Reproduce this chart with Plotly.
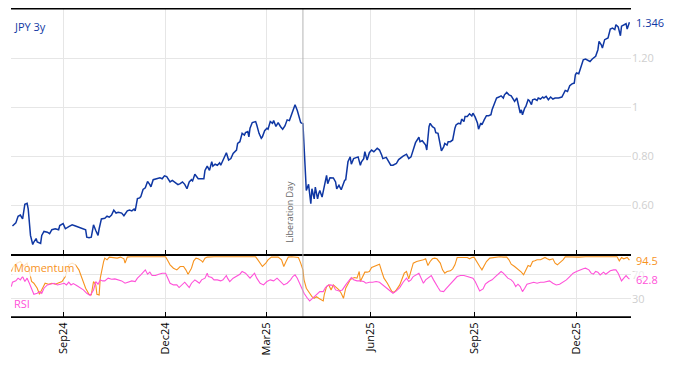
import pandas as pd
import plotly.graph_objects as go

# ---------------- data ----------------
base_date = "2024-07-17"

jpy_day = [
    1, 4, 6, 8, 10, 12, 14, 15, 17, 19,
    20, 22, 23, 26, 27, 29, 32, 34, 36, 39,
    42, 43, 46, 48, 51, 54, 57, 60, 63, 66,
    67, 69, 71, 73, 75, 77, 78, 80, 83, 85,
    87, 89, 91, 93, 95, 98, 100, 103, 105, 107,
    109, 110, 112, 114, 115, 117, 119, 121, 123, 124,
    126, 129, 132, 134, 136, 138, 139, 141, 143, 146,
    148, 150, 152, 154, 156, 158, 160, 161, 163, 166,
    169, 171, 172, 174, 176, 178, 179, 181, 183, 185,
    186, 188, 191, 193, 195, 197, 200, 201, 203, 205,
    207, 208, 210, 211, 212, 214, 217, 218, 220, 222,
    223, 225, 227, 228, 230, 232, 233, 235, 237, 239,
    241, 243, 245, 247, 249, 251, 252, 254, 256, 257,
    259, 260, 261, 262, 264, 265, 266, 267, 269, 270,
    272, 273, 274, 276, 277, 280, 281, 283, 286, 288,
    289, 291, 293, 294, 296, 297, 299, 301, 302, 304,
    306, 308, 310, 311, 313, 314, 316, 318, 320, 322,
    325, 327, 329, 330, 333, 335, 337, 339, 342, 344,
    346, 348, 351, 353, 355, 357, 359, 362, 363, 365,
    367, 368, 369, 371, 372, 374, 376, 377, 379, 381,
    382, 384, 385, 387, 388, 390, 392, 394, 395, 397,
    399, 400, 402, 403, 405, 407, 409, 410, 412, 414,
    415, 417, 418, 420, 422, 424, 426, 427, 429, 431,
    433, 435, 437, 438, 440, 442, 444, 446, 447, 449,
    450, 452, 453, 454, 456, 457, 459, 460, 462, 463,
    465, 467, 468, 470, 472, 473, 475, 477, 479, 481,
    483, 486, 489, 491, 492, 494, 496, 498, 500, 501,
    502, 504, 506, 508, 510, 512, 514, 516, 517, 519,
    521, 522, 524, 525, 527, 529, 530, 532, 534, 536,
    537, 539, 541, 542, 544, 546, 547, 548, 549,
]
jpy_value = [
    0.515, 0.528, 0.555, 0.560, 0.544, 0.604, 0.608, 0.584, 0.477, 0.440,
    0.450, 0.464, 0.450, 0.444, 0.477, 0.493, 0.490, 0.484, 0.500, 0.504,
    0.500, 0.517, 0.525, 0.504, 0.513, 0.520, 0.515, 0.510, 0.507, 0.500,
    0.470, 0.467, 0.470, 0.520, 0.497, 0.477, 0.504, 0.544, 0.547, 0.555,
    0.551, 0.560, 0.580, 0.568, 0.571, 0.568, 0.557, 0.577, 0.580, 0.577,
    0.584, 0.577, 0.627, 0.630, 0.635, 0.664, 0.671, 0.697, 0.684, 0.675,
    0.704, 0.709, 0.712, 0.708, 0.720, 0.717, 0.708, 0.695, 0.701, 0.690,
    0.684, 0.688, 0.695, 0.685, 0.667, 0.695, 0.704, 0.699, 0.726, 0.708,
    0.708, 0.708, 0.742, 0.759, 0.742, 0.777, 0.759, 0.767, 0.763, 0.773,
    0.763, 0.784, 0.814, 0.784, 0.790, 0.811, 0.825, 0.852, 0.859, 0.893,
    0.886, 0.896, 0.900, 0.879, 0.914, 0.937, 0.941, 0.927, 0.893, 0.873,
    0.879, 0.904, 0.914, 0.910, 0.941, 0.934, 0.945, 0.921, 0.937, 0.921,
    0.910, 0.923, 0.948, 0.945, 0.968, 0.996, 1.010, 0.986, 0.959, 0.937,
    0.932, 0.825, 0.701, 0.660, 0.685, 0.647, 0.606, 0.667, 0.626, 0.674,
    0.626, 0.647, 0.660, 0.633, 0.653, 0.722, 0.688, 0.712, 0.711, 0.695,
    0.667, 0.681, 0.663, 0.677, 0.701, 0.704, 0.777, 0.797, 0.767, 0.790,
    0.795, 0.797, 0.763, 0.777, 0.790, 0.818, 0.784, 0.814, 0.825, 0.818,
    0.832, 0.825, 0.804, 0.790, 0.795, 0.777, 0.763, 0.763, 0.770, 0.786,
    0.795, 0.800, 0.808, 0.790, 0.797, 0.825, 0.855, 0.877, 0.859, 0.863,
    0.849, 0.845, 0.825, 0.920, 0.934, 0.920, 0.914, 0.896, 0.893, 0.845,
    0.822, 0.838, 0.852, 0.845, 0.859, 0.859, 0.866, 0.914, 0.927, 0.934,
    0.932, 0.951, 0.941, 0.962, 0.962, 0.973, 0.964, 0.975, 0.959, 0.935,
    0.910, 0.935, 0.928, 0.948, 0.965, 0.965, 0.969, 0.989, 1.014, 1.037,
    1.041, 1.046, 1.037, 1.050, 1.060, 1.050, 1.046, 1.033, 1.023, 1.037,
    1.014, 0.976, 0.989, 0.969, 0.996, 1.003, 1.030, 1.027, 1.010, 1.030,
    1.033, 1.027, 1.037, 1.033, 1.041, 1.037, 1.044, 1.030, 1.041, 1.033,
    1.037, 1.037, 1.041, 1.064, 1.068, 1.064, 1.087, 1.095, 1.098, 1.132,
    1.139, 1.136, 1.166, 1.193, 1.196, 1.190, 1.186, 1.196, 1.200, 1.207,
    1.234, 1.268, 1.254, 1.241, 1.275, 1.278, 1.282, 1.318, 1.322, 1.316,
    1.336, 1.327, 1.291, 1.330, 1.336, 1.340, 1.318, 1.336, 1.346,
]

mom_day = [
    0, 2, 5, 8, 11, 14, 16, 18, 20, 23,
    25, 27, 29, 30, 33, 36, 39, 42, 45, 48,
    51, 54, 57, 60, 63, 66, 69, 71, 73, 75,
    76, 78, 79, 81, 82, 83, 85, 87, 91, 94,
    97, 100, 101, 103, 106, 112, 115, 120, 126, 132,
    137, 139, 141, 144, 147, 150, 153, 155, 157, 160,
    162, 164, 166, 169, 170, 172, 174, 180, 186, 191,
    197, 203, 209, 214, 217, 219, 221, 223, 226, 228,
    231, 234, 237, 240, 242, 244, 246, 249, 252, 255,
    257, 259, 260, 262, 265, 267, 269, 271, 273, 275,
    277, 278, 280, 282, 284, 286, 289, 291, 293, 295,
    297, 299, 301, 303, 305, 307, 309, 310, 312, 314,
    316, 318, 320, 322, 325, 327, 329, 331, 334, 336,
    338, 340, 342, 345, 347, 349, 351, 353, 354, 356,
    357, 360, 363, 366, 368, 370, 372, 374, 376, 378,
    381, 383, 385, 387, 390, 392, 394, 396, 399, 402,
    405, 407, 409, 411, 413, 416, 418, 420, 422, 425,
    428, 431, 434, 437, 440, 442, 444, 447, 449, 451,
    453, 455, 457, 459, 461, 463, 465, 467, 470, 472,
    474, 476, 478, 481, 483, 485, 487, 490, 492, 498,
    504, 510, 515, 521, 527, 533, 538, 540, 542, 544,
    547, 549,
]
mom_value = [
    75.6, 83.9, 89.5, 92.2, 83.9, 89.5, 75.6, 58.9, 56.1, 47.8,
    37.8, 45.0, 53.3, 56.1, 54.5, 56.1, 54.5, 56.1, 58.9, 67.2,
    86.7, 89.5, 86.7, 78.3, 61.7, 47.8, 37.8, 36.7, 58.9, 53.3,
    37.8, 36.7, 64.5, 86.7, 92.2, 97.8, 95.0, 99.5, 98.9, 97.8,
    99.5, 96.7, 89.5, 99.5, 100.0, 100.0, 100.0, 100.0, 100.0, 100.0,
    100.0, 93.3, 86.7, 81.1, 78.3, 83.9, 83.9, 78.3, 71.1, 81.1,
    93.3, 97.8, 96.7, 93.3, 91.1, 97.8, 99.5, 100.0, 100.0, 99.5,
    99.5, 99.5, 100.0, 100.0, 100.0, 95.0, 89.5, 83.9, 89.5, 95.0,
    99.5, 100.0, 99.5, 95.0, 83.9, 92.2, 99.5, 100.0, 100.0, 98.9,
    89.5, 78.3, 61.7, 47.8, 39.4, 33.9, 31.1, 33.9, 31.1, 28.3,
    26.7, 37.8, 50.6, 53.3, 45.0, 53.3, 47.8, 45.0, 39.4, 31.1,
    47.8, 56.1, 61.7, 64.5, 65.6, 64.5, 75.6, 58.9, 67.2, 74.5,
    74.5, 75.6, 82.2, 83.9, 86.7, 87.8, 75.6, 64.5, 56.1, 48.9,
    42.2, 41.1, 45.0, 53.3, 61.7, 72.8, 75.6, 63.3, 70.0, 83.9,
    89.5, 92.2, 93.3, 95.0, 96.7, 85.6, 92.2, 96.7, 97.8, 96.7,
    89.5, 78.3, 72.8, 75.6, 76.7, 80.0, 86.7, 98.9, 98.9, 99.5,
    98.9, 96.7, 98.9, 99.5, 92.2, 83.9, 78.3, 86.7, 92.2, 97.8,
    98.9, 99.5, 100.0, 99.5, 99.5, 95.0, 87.8, 83.9, 81.1, 78.3,
    74.5, 70.0, 78.3, 85.6, 83.9, 92.2, 93.3, 95.0, 95.0, 96.7,
    98.9, 96.7, 95.0, 96.7, 89.5, 86.7, 89.5, 95.0, 100.0, 99.5,
    99.5, 100.0, 100.0, 100.0, 100.0, 100.0, 100.0, 93.3, 98.9, 96.7,
    98.9, 94.5,
]

rsi_day = [
    0, 1, 4, 6, 8, 10, 12, 14, 16, 18,
    20, 23, 25, 27, 29, 32, 35, 38, 41, 44,
    47, 49, 51, 53, 55, 58, 61, 64, 67, 70,
    73, 75, 77, 79, 81, 83, 86, 89, 92, 95,
    98, 101, 104, 107, 110, 112, 115, 117, 119, 121,
    123, 125, 128, 131, 134, 137, 139, 141, 144, 147,
    149, 152, 154, 156, 158, 160, 163, 165, 167, 169,
    172, 174, 175, 178, 180, 183, 186, 188, 191, 192,
    194, 197, 200, 203, 205, 208, 210, 212, 214, 216,
    218, 221, 224, 227, 230, 233, 236, 239, 242, 245,
    248, 250, 252, 254, 256, 258, 260, 263, 265, 267,
    269, 271, 274, 277, 279, 281, 283, 286, 288, 291,
    294, 297, 300, 302, 304, 307, 310, 313, 315, 318,
    321, 324, 327, 330, 333, 336, 339, 342, 345, 348,
    351, 353, 355, 357, 360, 362, 364, 366, 368, 370,
    373, 375, 377, 379, 381, 384, 386, 388, 391, 394,
    396, 399, 402, 405, 407, 410, 412, 414, 416, 419,
    421, 424, 427, 430, 433, 435, 437, 439, 441, 444,
    446, 448, 450, 452, 454, 456, 458, 461, 464, 467,
    470, 473, 476, 478, 481, 484, 487, 490, 493, 496,
    499, 502, 505, 508, 510, 513, 515, 517, 519, 521,
    523, 526, 528, 530, 532, 535, 537, 539, 541, 542,
    544, 546, 548, 549,
]
rsi_value = [
    50.6, 57.8, 60.0, 64.5, 61.7, 67.2, 58.9, 64.5, 56.1, 45.0,
    37.8, 39.4, 42.2, 39.4, 47.8, 53.3, 55.0, 56.1, 53.3, 54.5,
    56.1, 53.3, 57.8, 53.3, 55.6, 52.2, 48.9, 45.0, 39.4, 35.6,
    45.0, 58.9, 54.5, 61.7, 60.0, 60.0, 64.5, 62.8, 63.3, 61.7,
    60.0, 56.1, 57.8, 60.0, 58.9, 64.5, 70.0, 74.5, 78.3, 71.1,
    74.5, 68.9, 68.9, 71.1, 72.8, 72.8, 64.5, 56.1, 53.3, 53.3,
    48.9, 53.3, 57.8, 53.3, 48.9, 56.1, 61.7, 58.9, 56.1, 61.7,
    64.5, 72.8, 67.2, 65.6, 61.7, 61.7, 60.0, 61.7, 68.9, 64.5,
    58.9, 64.5, 67.2, 71.1, 75.6, 72.8, 68.9, 64.5, 68.9, 72.8,
    64.5, 56.1, 53.3, 58.9, 61.7, 60.0, 64.5, 58.9, 53.3, 56.1,
    61.7, 67.2, 70.0, 64.5, 56.1, 47.8, 39.4, 31.1, 26.7, 30.0,
    33.9, 37.8, 42.2, 42.2, 48.9, 52.2, 53.3, 52.2, 45.0, 43.3,
    45.0, 53.3, 61.7, 65.6, 61.7, 60.0, 60.0, 58.9, 56.1, 57.8,
    57.8, 58.9, 57.8, 53.3, 48.9, 45.0, 39.4, 43.3, 48.9, 57.8,
    64.5, 58.9, 61.7, 67.2, 71.1, 72.8, 64.5, 56.1, 61.7, 64.5,
    68.9, 61.7, 54.5, 48.9, 43.3, 42.2, 46.7, 50.6, 56.1, 61.7,
    67.2, 68.9, 68.9, 67.2, 65.6, 64.5, 58.9, 50.6, 43.3, 46.7,
    54.5, 58.9, 61.7, 67.2, 72.8, 75.6, 72.8, 68.9, 64.5, 61.7,
    57.8, 50.6, 54.5, 50.6, 42.2, 47.8, 54.5, 56.1, 57.8, 56.1,
    57.8, 57.8, 58.9, 60.0, 56.1, 53.3, 54.5, 57.8, 61.7, 67.2,
    72.8, 75.6, 78.3, 80.0, 81.1, 78.3, 72.8, 71.1, 75.6, 74.5,
    70.0, 74.5, 71.1, 74.5, 76.7, 78.3, 78.3, 72.8, 64.5, 60.0,
    64.5, 68.9, 64.5, 62.8,
]

tick_dates = ["2024-09-01", "2024-12-01", "2025-03-01", "2025-06-01", "2025-09-01", "2025-12-01"]
event_date = "2025-04-02"
event_label = "Liberation Day"
jpy_ticks = [0.6, 0.8, 1.0, 1.2]
jpy_ticktext = ["0.60", "0.80", "1", "1.20"]
osc_ticks = [30, 70]

assert len(jpy_day) == len(jpy_value)
assert len(mom_day) == len(mom_value)
assert len(rsi_day) == len(rsi_value)

# ---------------- build ----------------
base = pd.Timestamp(base_date)
to_dates = lambda days: [base + pd.Timedelta(days=d) for d in days]
jpy_x = to_dates(jpy_day)
mom_x = to_dates(mom_day)
rsi_x = to_dates(rsi_day)

BLUE = "#0f37a3"
ORANGE = "#f7931e"
PINK = "#ff52d9"
GRID = "#e6e6e6"
TICKGRAY = "#cfcfcf"
FONT = "Open Sans"

x_range = [base - pd.Timedelta(days=0.3), base + pd.Timedelta(days=550.4)]
split = 62 / 308

fig = go.Figure()
fig.add_trace(go.Scatter(x=jpy_x, y=jpy_value, mode="lines", xaxis="x2", yaxis="y",
                         line=dict(color=BLUE, width=1.5), name="JPY 3y"))
fig.add_trace(go.Scatter(x=mom_x, y=mom_value, mode="lines", xaxis="x", yaxis="y2",
                         line=dict(color=ORANGE, width=1.1), name="Momentum"))
fig.add_trace(go.Scatter(x=rsi_x, y=rsi_value, mode="lines", xaxis="x", yaxis="y2",
                         line=dict(color=PINK, width=1.1), name="RSI"))

common_x = dict(type="date", range=x_range, tickvals=tick_dates, tickformat="%b%y",
                showgrid=True, gridcolor=GRID, gridwidth=1, zeroline=False,
                showline=True, linecolor="black", linewidth=1, mirror=True,
                ticks="inside", ticklen=5, tickcolor="black", tickwidth=1)

fig.update_layout(
    width=674, height=366,
    margin=dict(l=11, r=43, t=9, b=49),
    paper_bgcolor="white", plot_bgcolor="white",
    showlegend=False,
    font=dict(family=FONT, size=11, color="black"),
    xaxis=dict(domain=[0, 1], anchor="y2", tickangle=-90,
               tickfont=dict(size=11, color="black", family=FONT), **common_x),
    xaxis2=dict(domain=[0, 1], anchor="y", matches="x", showticklabels=False, **common_x),
    yaxis=dict(domain=[split, 1], anchor="x2", side="right", range=[0.397, 1.40],
               tickvals=jpy_ticks, ticktext=jpy_ticktext,
               tickfont=dict(size=11, color=TICKGRAY, family=FONT),
               showgrid=True, gridcolor=GRID, zeroline=False, showline=False, ticks=""),
    yaxis2=dict(domain=[0, split], anchor="x", side="right", range=[0, 103],
                tickvals=osc_ticks,
                tickfont=dict(size=11, color=TICKGRAY, family=FONT),
                showgrid=True, gridcolor=GRID, zeroline=False, showline=False, ticks=""),
)

# event marker line across both panels
fig.add_shape(type="line", xref="x", yref="paper", x0=event_date, x1=event_date,
              y0=0, y1=1, line=dict(color="#b4b4b4", width=1))
# frame lines at the very top and very bottom of the plotting area
fig.add_shape(type="line", xref="paper", yref="y domain", x0=0, x1=1, y0=1, y1=1,
              line=dict(color="black", width=1), layer="above")
fig.add_shape(type="line", xref="paper", yref="y2 domain", x0=0, x1=1, y0=0.004, y1=0.004,
              line=dict(color="black", width=1.2), layer="above")

ann = []
ann.append(dict(text=event_label, x=event_date, xref="x", y=split, yref="paper",
                xanchor="center", yanchor="bottom", textangle=-90, xshift=-13, yshift=11,
                showarrow=False, font=dict(size=9, color="#666666", family=FONT)))
ann.append(dict(text="JPY 3y", x=0, xref="paper", y=1, yref="paper", xanchor="left",
                yanchor="top", xshift=1, yshift=-8, showarrow=False,
                font=dict(size=11, color=BLUE, family=FONT)))
ann.append(dict(text="Momentum", x=0, xref="paper", y=split, yref="paper", xanchor="left",
                yanchor="top", xshift=1, yshift=-3, showarrow=False,
                bgcolor="rgba(255,255,255,0.75)",
                font=dict(size=11, color=ORANGE, family=FONT)))
ann.append(dict(text="RSI", x=0, xref="paper", y=0, yref="paper", xanchor="left",
                yanchor="bottom", xshift=1, yshift=4, showarrow=False,
                font=dict(size=11, color=PINK, family=FONT)))
ann.append(dict(text=f"{jpy_value[-1]:.3f}", x=1, xref="paper", y=jpy_value[-1], yref="y",
                xanchor="left", yanchor="middle", xshift=3, showarrow=False,
                font=dict(size=11, color=BLUE, family=FONT)))
ann.append(dict(text=f"{mom_value[-1]:.1f}", x=1, xref="paper", y=mom_value[-1], yref="y2",
                xanchor="left", yanchor="middle", xshift=3, showarrow=False,
                font=dict(size=11, color=ORANGE, family=FONT)))
ann.append(dict(text=f"{rsi_value[-1]:.1f}", x=1, xref="paper", y=rsi_value[-1], yref="y2",
                xanchor="left", yanchor="middle", xshift=3, showarrow=False,
                bgcolor="rgba(255,255,255,0.6)",
                font=dict(size=11, color=PINK, family=FONT)))
fig.update_layout(annotations=ann)

fig.write_html("out.html", config={"displayModeBar": False},
               post_script="document.body.style.margin='0';document.body.style.padding='0';")
